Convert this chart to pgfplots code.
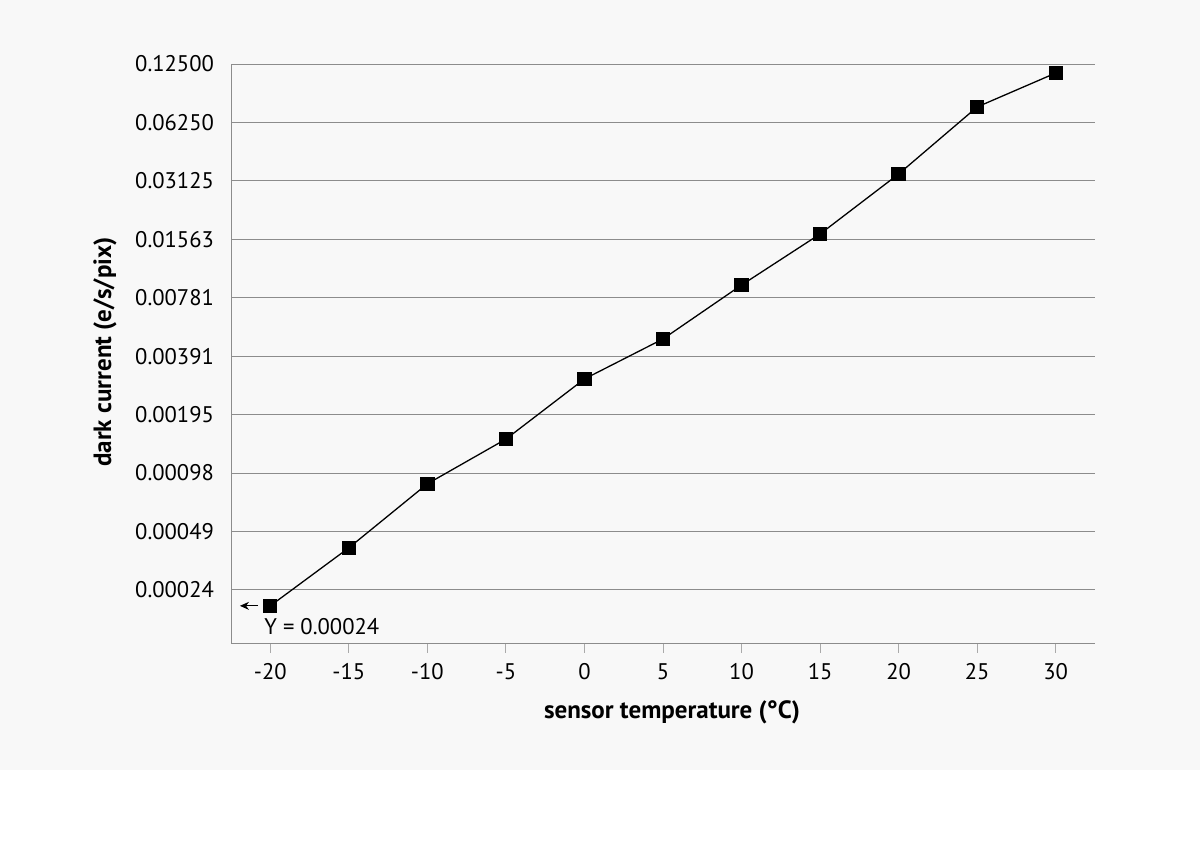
\documentclass[border=0pt]{standalone}
\usepackage{fontspec}
\setmainfont{PT Sans}
\usepackage{pgfplots}
\pgfplotsset{compat=1.18}
\usetikzlibrary{arrows.meta}
\definecolor{bg}{RGB}{248,248,248}
\definecolor{gridgray}{RGB}{140,140,140}
\definecolor{tickgray}{RGB}{170,170,170}

\begin{document}
\begin{tikzpicture}
\fill[white] (0,0) rectangle (600pt,433pt);
\fill[bg] (0,48pt) rectangle (600pt,433pt);
\useasboundingbox (0,0) rectangle (600pt,433pt);
\begin{axis}[
  at={(115.5pt,111.5pt)}, anchor=south west,
  scale only axis, width=432pt, height=289.5pt,
  ymode=log, log basis y=2,
  xmin=-22.5, xmax=32.5, ymin=0.00013, ymax=0.125,
  axis x line*=bottom, axis y line*=left,
  axis line style={draw=gridgray, line width=0.5pt},
  xtick={-20,-15,...,30},
  xticklabels={-20,-15,-10,-5,0,5,10,15,20,25,30},
  ytick={0.000244140625,0.00048828125,0.0009765625,0.001953125,0.00390625,0.0078125,0.015625,0.03125,0.0625,0.125},
  yticklabels={0.00024,0.00049,0.00098,0.00195,0.00391,0.00781,0.01563,0.03125,0.06250,0.12500},
  tick align=outside, major tick length=5pt,
  xtick style={draw=tickgray, line width=0.5pt},
  ytick style={draw=none},
  ymajorgrids=true,
  grid style={draw=gridgray, line width=0.5pt},
  every tick label/.append style={font=\fontsize{11.3pt}{13pt}\selectfont},
  yticklabel style={xshift=0pt},
  xticklabel style={yshift=-1.7pt},
  xlabel={sensor temperature (°C)},
  ylabel={dark current (e/s/pix)},
  label style={font=\fontsize{12.5pt}{14pt}\selectfont\bfseries},
  xlabel style={at={(axis description cs:0.5104,-0.119)}, anchor=center},
  ylabel style={at={(axis description cs:-0.1458,0.5026)}, anchor=center, rotate=0},
  clip=false,
]
\addplot[black, line width=0.65pt, mark=square*, mark size=3.25pt] coordinates {
  (-20,0.000202) (-15,0.000402) (-10,0.000859) (-5,0.00146) (0,0.00298)
  (5,0.00479) (10,0.00908) (15,0.01664) (20,0.0339) (25,0.0751) (30,0.1123)
};
\draw[-{Stealth[length=4.5pt,width=4pt]}, line width=0.5pt] (axis cs:-20.78,0.000202) -- (axis cs:-21.93,0.000202);
\node[anchor=west, inner sep=0pt, font=\fontsize{11.3pt}{13pt}\selectfont] at (axis cs:-20.4,0.0001575) {Y = 0.00024};
\end{axis}
\end{tikzpicture}
\end{document}
